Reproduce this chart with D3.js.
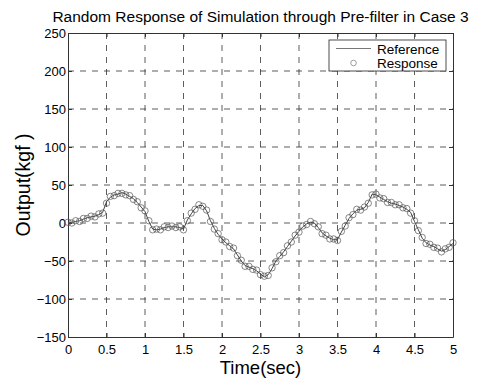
<!DOCTYPE html>
<html>
<head>
<meta charset="utf-8">
<script src="https://cdn.jsdelivr.net/npm/d3@7"></script>
<style>
  body { margin: 0; background: #fff; }
  svg { font-family: "Liberation Sans", Arial, sans-serif; }
</style>
</head>
<body>
<svg id="chart"></svg>
<script>
// time steps (sec)
const times = d3.range(0, 101).map(i => +(i * 0.05).toFixed(2));

const referenceValues = [
  0, 1, 2, 3, 5, 7, 8, 9, 11, 14,
  28, 34, 37, 38, 40, 38, 35, 32, 27, 21,
  15, 2, -8, -9, -8, -6, -5, -5, -5, -6,
  -8, 4, 12, 19, 23, 23, 16, 3, -7, -15,
  -21, -26, -30, -34, -42, -50, -56, -58, -60, -63,
  -67, -71, -68, -60, -50, -44, -38, -31, -24, -17,
  -11, -5, -1, 1, 0, -6, -13, -17, -20, -22,
  -22, -12, -3, 6, 12, 17, 18, 20, 27, 38,
  37, 34, 31, 28, 26, 25, 23, 21, 18, 14,
  2, -9, -20, -26, -29, -31, -34, -37, -35, -31,
  -27
];

const responseValues = [
  1, 0, 3, 2, 6, 6, 9, 8, 12, 13,
  26, 35, 36, 39, 39, 37, 36, 31, 28, 20,
  16, 3, -9, -8, -9, -5, -6, -4, -6, -5,
  -9, 3, 13, 18, 24, 22, 17, 2, -8, -14,
  -22, -25, -31, -33, -43, -49, -57, -57, -61, -62,
  -68, -70, -69, -59, -51, -43, -39, -30, -25, -16,
  -12, -4, -2, 2, -1, -5, -14, -16, -21, -21,
  -23, -11, -4, 7, 11, 18, 17, 21, 26, 37,
  38, 33, 32, 27, 27, 24, 24, 20, 19, 13,
  3, -10, -19, -27, -28, -32, -33, -38, -34, -32,
  -26
];

const xTicks = [0, 0.5, 1, 1.5, 2, 2.5, 3, 3.5, 4, 4.5, 5];
const yTicks = [-150, -100, -50, 0, 50, 100, 150, 200, 250];
const legendLabels = ["Reference", "Response"];

const W = 484, H = 378;
const margin = {top: 33, right: 31, bottom: 41, left: 68};
const width = W - margin.left - margin.right;
const height = H - margin.top - margin.bottom;

const svg = d3.select("#chart").attr("width", W).attr("height", H);
const g = svg.append("g").attr("transform", `translate(${margin.left},${margin.top})`);

const x = d3.scaleLinear().domain([0, 5]).range([0, width]);
const y = d3.scaleLinear().domain([-150, 250]).range([height, 0]);

// grid
g.append("g")
  .selectAll("line")
  .data(xTicks.slice(1, -1))
  .join("line")
  .attr("x1", d => x(d)).attr("x2", d => x(d))
  .attr("y1", 0).attr("y2", height)
  .attr("stroke", "#333").attr("stroke-width", 0.8)
  .attr("stroke-dasharray", "6,6");

g.append("g")
  .selectAll("line")
  .data(yTicks.slice(1, -1))
  .join("line")
  .attr("x1", 0).attr("x2", width)
  .attr("y1", d => y(d)).attr("y2", d => y(d))
  .attr("stroke", "#333").attr("stroke-width", 0.8)
  .attr("stroke-dasharray", "6,6");

// axes
g.append("g")
  .attr("transform", `translate(0,${height})`)
  .call(d3.axisBottom(x).tickValues(xTicks).tickSizeInner(-4).tickSizeOuter(0).tickPadding(8)
    .tickFormat(d3.format("")));
g.append("g")
  .call(d3.axisLeft(y).tickValues(yTicks).tickSizeInner(-4).tickSizeOuter(0).tickPadding(2));
g.append("g")
  .call(d3.axisTop(x).tickValues(xTicks).tickSizeInner(-4).tickSizeOuter(0).tickFormat(""));
g.append("g")
  .attr("transform", `translate(${width},0)`)
  .call(d3.axisRight(y).tickValues(yTicks).tickSizeInner(-4).tickSizeOuter(0).tickFormat(""));

g.selectAll(".domain").attr("stroke", "#333");
g.selectAll(".tick line").attr("stroke", "#333");
g.selectAll(".tick text").attr("font-size", 13).attr("fill", "#000")
  .attr("font-family", "Liberation Sans, Arial, sans-serif");

// reference line
const line = d3.line()
  .x((d, i) => x(times[i]))
  .y(d => y(d));

g.append("path")
  .datum(referenceValues)
  .attr("fill", "none")
  .attr("stroke", "#444")
  .attr("stroke-width", 1)
  .attr("d", line);

// response circles
g.append("g")
  .selectAll("circle")
  .data(responseValues)
  .join("circle")
  .attr("cx", (d, i) => x(times[i]))
  .attr("cy", d => y(d))
  .attr("r", 3.2)
  .attr("fill", "none")
  .attr("stroke", "#555")
  .attr("stroke-width", 0.7);

// legend
const legend = svg.append("g").attr("transform", "translate(329,40)");
legend.append("rect")
  .attr("width", 117).attr("height", 31)
  .attr("fill", "#fff").attr("stroke", "#222").attr("stroke-width", 0.8);
legend.append("line")
  .attr("x1", 7).attr("x2", 42).attr("y1", 8.5).attr("y2", 8.5)
  .attr("stroke", "#777").attr("stroke-width", 1);
legend.append("circle")
  .attr("cx", 24.5).attr("cy", 23).attr("r", 2.8)
  .attr("fill", "none").attr("stroke", "#777").attr("stroke-width", 0.7);
legend.selectAll("text")
  .data(legendLabels)
  .join("text")
  .attr("x", 48)
  .attr("y", (d, i) => 13.5 + i * 14.5)
  .attr("font-size", 13.5)
  .text(d => d);

// title and labels
svg.append("text")
  .attr("x", margin.left + width / 2)
  .attr("y", 22)
  .attr("text-anchor", "middle")
  .attr("font-size", 15.5)
  .text("Random Response of Simulation through Pre-filter in Case 3");

svg.append("text")
  .attr("x", margin.left + width / 2)
  .attr("y", 374)
  .attr("text-anchor", "middle")
  .attr("font-size", 18.5)
  .text("Time(sec)");

svg.append("text")
  .attr("transform", `translate(30,${margin.top + height / 2}) rotate(-90)`)
  .attr("text-anchor", "middle")
  .attr("font-size", 19.5)
  .text("Output(kgf )");
</script>
</body>
</html>
